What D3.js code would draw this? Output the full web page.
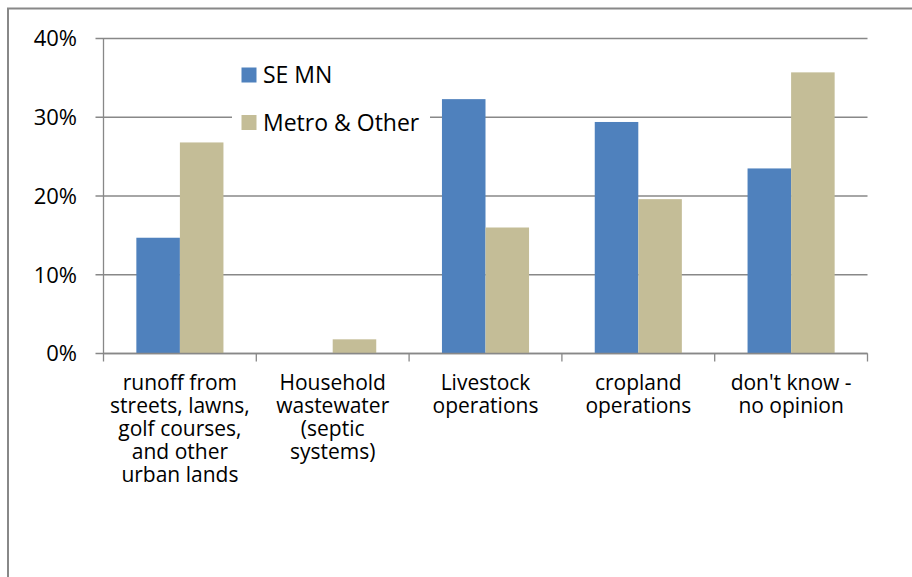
<!DOCTYPE html>
<html lang="en">
<head>
<meta charset="UTF-8">
<script src="https://cdnjs.cloudflare.com/ajax/libs/d3/7.8.5/d3.min.js"></script>
<title>Water pollution sources</title>
<style>
    body { margin: 0; background: #fff; }
    svg { display: block; }
    text { font-family: "Open Sans", "Liberation Sans", sans-serif; fill: #000; }
</style>
</head>
<body>
<svg width="912" height="577"></svg>
<script>
    // categories (lines of each label) and the two series
    var categories = [
        ["runoff from", "streets, lawns,", "golf courses,", "and other", "urban lands"],
        ["Household", "wastewater", "(septic", "systems)"],
        ["Livestock", "operations"],
        ["cropland", "operations"],
        ["don't know -", "no opinion"]
    ];
    var seriesNames = ["SE MN", "Metro & Other"];
    var seMN = [0.147, 0, 0.323, 0.294, 0.235];
    var metro = [0.268, 0.018, 0.160, 0.196, 0.357];
    var yTicks = [0, 0.1, 0.2, 0.3, 0.4];
    var colors = ["#4F81BD", "#C4BD97"];

    var svg = d3.select("svg");
    var plotL = 103.5, plotR = 867.5, plotT = 38.5, plotB = 353.5;

    // outer chart border
    svg.append("rect")
        .attr("x", 8).attr("y", 8.5)
        .attr("width", 920).attr("height", 600)
        .style("fill", "none").style("stroke", "#888").style("stroke-width", 2);

    var keys = categories.map((d, i) => i);
    var x = d3.scaleBand().domain(keys).range([plotL, plotR])
        .paddingInner(0.43).paddingOuter(0.215);
    var xs = d3.scaleBand().domain([0, 1]).range([0, x.bandwidth()]);
    var y = d3.scaleLinear().domain([0, 0.4]).range([plotB, plotT]);

    // gridlines + y ticks
    svg.append("g").selectAll("line").data(yTicks).enter().append("line")
        .attr("x1", plotL - 8).attr("x2", plotR)
        .attr("y1", d => y(d)).attr("y2", d => y(d))
        .style("stroke", "#888").style("stroke-width", 1.3);

    svg.append("g").selectAll("text").data(yTicks).enter().append("text")
        .attr("x", 77).attr("y", d => y(d))
        .attr("dy", "0.36em")
        .attr("text-anchor", "end")
        .style("font-size", "22px")
        .text(d3.format(".0%"));

    // y axis line
    svg.append("line").attr("x1", plotL).attr("x2", plotL).attr("y1", plotT).attr("y2", plotB)
        .style("stroke", "#888").style("stroke-width", 1.3);

    // category boundary ticks
    var step = x.step();
    svg.append("g").selectAll("line").data(d3.range(categories.length + 1)).enter().append("line")
        .attr("x1", d => plotL + d * step).attr("x2", d => plotL + d * step)
        .attr("y1", plotB).attr("y2", plotB + 8)
        .style("stroke", "#888").style("stroke-width", 1.3);

    // bars
    var series = [seMN, metro];
    series.forEach(function (vals, s) {
        svg.append("g").selectAll("rect").data(vals).enter().append("rect")
            .attr("x", (d, i) => x(i) + xs(s))
            .attr("width", xs.bandwidth())
            .attr("y", d => y(d))
            .attr("height", d => plotB - y(d))
            .style("fill", colors[s]);
    });

    // x axis line drawn over bars
    svg.append("line").attr("x1", plotL).attr("x2", plotR).attr("y1", plotB).attr("y2", plotB)
        .style("stroke", "#888").style("stroke-width", 1.3);

    // category labels
    var lab = svg.append("g").selectAll("text").data(categories).enter().append("text")
        .attr("text-anchor", "middle")
        .style("font-size", "21px")
        .attr("transform", (d, i) => "translate(" + (x(i) + x.bandwidth() / 2) + ",390)");
    lab.selectAll("tspan").data(d => d).enter().append("tspan")
        .attr("x", 0).attr("y", (d, i) => i * 23)
        .text(d => d);

    // legend
    var lg = svg.append("g");
    lg.append("rect").attr("x", 232).attr("y", 55).attr("width", 198).attr("height", 88)
        .style("fill", "#fff");
    seriesNames.forEach(function (name, i) {
        var cy = 75 + i * 47.5;
        lg.append("rect").attr("x", 241.5).attr("y", cy - 7.5).attr("width", 15).attr("height", 15)
            .style("fill", colors[i]);
        lg.append("text").attr("x", 263).attr("y", cy).attr("dy", "0.36em")
            .style("font-size", "23px").text(name);
    });
</script>
</body>
</html>
